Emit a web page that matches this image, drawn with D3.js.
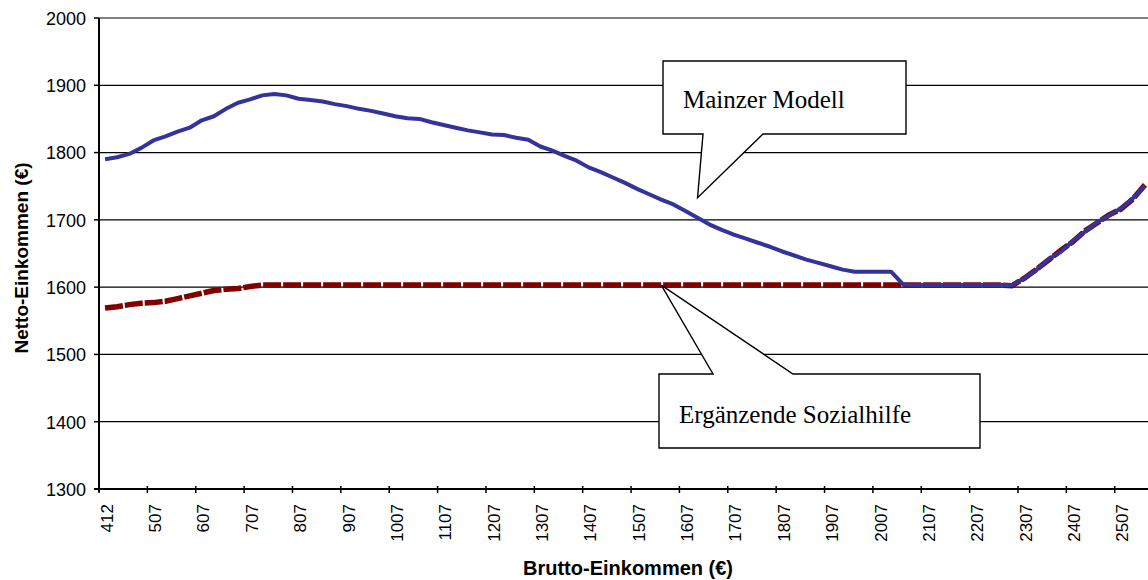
<!DOCTYPE html>
<html>
<head>
<meta charset="utf-8">
<script src="https://cdn.jsdelivr.net/npm/d3@7"></script>
<style>
  html, body { margin: 0; padding: 0; background: #fff; }
  svg { display: block; }
</style>
</head>
<body>
<svg id="chart" width="1148" height="580"></svg>
<script>
// ---------------- DATA ----------------
const categories = [412, 432, 457, 482].concat(d3.range(507, 2558, 25));
const mainzerModell = [
  1790, 1793, 1798, 1807, 1818, 1824, 1831, 1837, 1848, 1854,
  1865, 1874, 1879, 1885, 1887, 1885, 1880, 1878, 1876, 1872,
  1869, 1865, 1862, 1858, 1854, 1851, 1850, 1845, 1841, 1837,
  1833, 1830, 1827, 1826, 1822, 1819, 1809, 1803, 1795, 1788,
  1778, 1771, 1763, 1755, 1746, 1738, 1730, 1723, 1713, 1703,
  1693, 1685, 1678, 1672, 1666, 1660, 1653, 1647, 1641, 1636,
  1631, 1626, 1623, 1623, 1623, 1623, 1604, 1603, 1603, 1603,
  1603, 1603, 1603, 1603, 1603, 1603, 1613, 1625, 1641, 1652,
  1668, 1682, 1696, 1706, 1717, 1732, 1751
];
const sozialhilfe = [
  1569, 1571, 1574, 1576, 1577, 1579, 1583, 1587, 1591, 1595,
  1597, 1598, 1601, 1603, 1603, 1603, 1603, 1603, 1603, 1603,
  1603, 1603, 1603, 1603, 1603, 1603, 1603, 1603, 1603, 1603,
  1603, 1603, 1603, 1603, 1603, 1603, 1603, 1603, 1603, 1603,
  1603, 1603, 1603, 1603, 1603, 1603, 1603, 1603, 1603, 1603,
  1603, 1603, 1603, 1603, 1603, 1603, 1603, 1603, 1603, 1603,
  1603, 1603, 1603, 1603, 1603, 1603, 1603, 1603, 1603, 1603,
  1603, 1603, 1603, 1603, 1603, 1602, 1613, 1626, 1640, 1654,
  1667, 1683, 1695, 1707, 1716, 1731, 1752
];
const yTicks = [1300, 1400, 1500, 1600, 1700, 1800, 1900, 2000];
const xTickEvery = 4;
const yTitle = "Netto-Einkommen (€)";
const xTitle = "Brutto-Einkommen (€)";
const callouts = [
  { text: "Mainzer Modell", cat: 1632, value: 1733 },
  { text: "Ergänzende Sozialhilfe", cat: 1557, value: 1603 }
];

// ---------------- LAYOUT ----------------
const svg = d3.select("#chart");
const pLeft = 99, pRight = 1151, pTop = 18, pBottom = 489;
const font = "'Liberation Sans', Arial, Helvetica, sans-serif";
const serif = "'Liberation Serif', 'Times New Roman', serif";

const x = d3.scaleBand().domain(categories).range([pLeft, pRight]).padding(0);
const y = d3.scaleLinear().domain([1300, 2000]).range([pBottom, pTop]);
const cx = c => x(c) + x.bandwidth() / 2;

// gridlines
svg.append("g").selectAll("line").data(yTicks.filter(t => t > 1300)).join("line")
  .attr("x1", pLeft).attr("x2", 1148)
  .attr("y1", d => y(d)).attr("y2", d => y(d))
  .attr("stroke", d => d === 2000 ? "#808080" : "#000")
  .attr("stroke-width", d => d === 2000 ? 2 : 1.3);

// lines
const line = d3.line().x((d, i) => cx(categories[i])).y(d => y(d));
svg.append("path").datum(sozialhilfe)
  .attr("d", line).attr("fill", "none")
  .attr("stroke", "#800000").attr("stroke-width", 5.5)
  .attr("stroke-dasharray", "18,2");
svg.append("path").datum(mainzerModell)
  .attr("d", line).attr("fill", "none")
  .attr("stroke", "#333399").attr("stroke-width", 4)
  .attr("stroke-linejoin", "round");

// axes
svg.append("line").attr("x1", pLeft).attr("x2", pLeft).attr("y1", pTop).attr("y2", pBottom + 3)
  .attr("stroke", "#000").attr("stroke-width", 2);
svg.append("line").attr("x1", pLeft - 5).attr("x2", 1148).attr("y1", pBottom).attr("y2", pBottom)
  .attr("stroke", "#000").attr("stroke-width", 2);

// y ticks + labels
const yg = svg.append("g");
yg.selectAll("line").data(yTicks).join("line")
  .attr("x1", pLeft - 5).attr("x2", pLeft).attr("y1", d => y(d)).attr("y2", d => y(d))
  .attr("stroke", "#000").attr("stroke-width", 1.5);
yg.selectAll("text").data(yTicks).join("text")
  .attr("x", 86).attr("y", d => y(d)).attr("dy", "0.38em")
  .attr("text-anchor", "end").attr("font-family", font).attr("font-size", 18)
  .text(d => d);

// x ticks + labels
const xCats = categories.filter((c, i) => i % xTickEvery === 0);
const xg = svg.append("g");
xg.selectAll("line").data(xCats).join("line")
  .attr("x1", d => x(d)).attr("x2", d => x(d))
  .attr("y1", pBottom - 3).attr("y2", pBottom + 4)
  .attr("stroke", "#000").attr("stroke-width", 1.5);
xg.selectAll("text").data(xCats).join("text")
  .attr("transform", d => `translate(${cx(d) + 1.5},504) rotate(-90)`)
  .attr("dy", "0.36em")
  .attr("text-anchor", "end").attr("font-family", font).attr("font-size", 17)
  .text(d => d);

// axis titles
svg.append("text")
  .attr("transform", `translate(28,258) rotate(-90)`)
  .attr("text-anchor", "middle").attr("font-family", font)
  .attr("font-size", 19).attr("font-weight", "bold")
  .text(yTitle);
svg.append("text")
  .attr("x", 628).attr("y", 575)
  .attr("text-anchor", "middle").attr("font-family", font)
  .attr("font-size", 20).attr("font-weight", "bold")
  .text(xTitle);

// callouts
function callout(c, box, base, textPos, baseOnTop) {
  const tx = cx(c.cat), ty = y(c.value);
  const g = svg.append("g");
  let pts;
  if (!baseOnTop) {
    pts = [[box.x0, box.y0], [box.x1, box.y0], [box.x1, box.y1],
           [base[1], box.y1], [tx, ty], [base[0], box.y1], [box.x0, box.y1]];
  } else {
    pts = [[box.x0, box.y0], [base[0], box.y0], [tx, ty], [base[1], box.y0],
           [box.x1, box.y0], [box.x1, box.y1], [box.x0, box.y1]];
  }
  g.append("path").attr("d", "M" + pts.map(p => p.join(",")).join("L") + "Z")
    .attr("fill", "#fff").attr("stroke", "#000").attr("stroke-width", 1.4)
    .attr("stroke-linejoin", "miter");
  g.append("text").attr("x", textPos[0]).attr("y", textPos[1])
    .attr("font-family", serif).attr("font-size", 25)
    .text(c.text);
}
callout(callouts[0], { x0: 663, y0: 61, x1: 906, y1: 134 }, [703, 763], [683, 108], false);
callout(callouts[1], { x0: 659, y0: 374, x1: 980, y1: 448 }, [713, 793], [679, 423], true);
</script>
</body>
</html>
